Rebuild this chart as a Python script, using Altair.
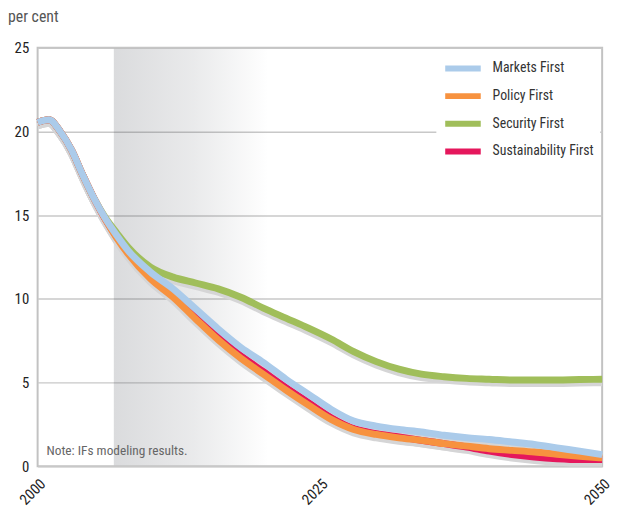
import altair as alt
import pandas as pd

years = [2000, 2001, 2002, 2003, 2004, 2005, 2006, 2007, 2008, 2010, 2012, 2014, 2016,
         2018, 2020, 2022, 2024, 2026, 2028, 2030, 2032, 2034, 2036, 2038, 2040, 2042,
         2044, 2046, 2048, 2050]

markets = [20.55, 20.7, 20.0, 18.9, 17.4, 16.0, 14.8, 13.8, 12.9, 11.6, 10.6, 9.4, 8.2,
           7.1, 6.2, 5.2, 4.3, 3.4, 2.7, 2.4, 2.2, 2.05, 1.85, 1.7, 1.6, 1.45,
           1.3, 1.1, 0.9, 0.7]
policy = [20.55, 20.7, 20.0, 18.9, 17.4, 16.0, 14.75, 13.65, 12.7, 11.2, 10.1, 8.8, 7.55,
          6.45, 5.5, 4.55, 3.65, 2.8, 2.2, 1.9, 1.7, 1.55, 1.35, 1.2, 1.05, 0.95,
          0.85, 0.72, 0.6, 0.5]
security = [20.55, 20.7, 20.0, 18.9, 17.4, 16.0, 14.85, 13.95, 13.1, 11.9, 11.3, 10.95, 10.6,
            10.1, 9.45, 8.85, 8.25, 7.6, 6.85, 6.25, 5.8, 5.5, 5.35, 5.25, 5.2, 5.15,
            5.15, 5.15, 5.18, 5.2]
sustainability = [20.55, 20.7, 20.0, 18.9, 17.4, 16.0, 14.75, 13.7, 12.8, 11.35, 10.25, 8.95, 7.7,
                  6.6, 5.65, 4.7, 3.8, 2.9, 2.25, 1.95, 1.75, 1.55, 1.35, 1.15, 0.9, 0.7,
                  0.55, 0.45, 0.4, 0.4]

series_names = ["Markets First", "Policy First", "Security First", "Sustainability First"]
series_colors = ["#abcbea", "#f7923f", "#a0be5a", "#e5175c"]
draw_order = ["Security First", "Sustainability First", "Policy First", "Markets First"]

band_start = [2006.75]
band_end = [2022.5]
band_low = [0.06]
band_high = [24.94]
x_ticks = [2000, 2025, 2050]
y_ticks = [0, 5, 10, 15, 20, 25]

rows = []
for name, vals in zip(series_names, [markets, policy, security, sustainability]):
    for yr, v in zip(years, vals):
        rows.append({"year": yr, "value": v, "series": name})
df = pd.DataFrame(rows)
band_df = pd.DataFrame({"start": band_start, "end": band_end,
                        "low": band_low, "high": band_high})

FONT = "Roboto Condensed, DejaVu Sans Condensed, Liberation Sans Narrow, Liberation Sans, sans-serif"

x_scale = alt.Scale(domain=[2000, 2050], nice=False)
y_scale = alt.Scale(domain=[0, 25], nice=False)
color_scale = alt.Scale(domain=series_names, range=series_colors)

band = alt.Chart(band_df).mark_rect(
    fill=alt.Gradient(
        gradient="linear",
        stops=[alt.GradientStop(color="rgba(60,65,75,0.19)", offset=0),
               alt.GradientStop(color="rgba(60,65,75,0.11)", offset=0.45),
               alt.GradientStop(color="rgba(60,65,75,0)", offset=0.87),
               alt.GradientStop(color="rgba(60,65,75,0)", offset=1)],
        x1=0, x2=1, y1=0, y2=0),
    strokeWidth=0,
).encode(
    x=alt.X("start:Q", scale=x_scale,
            axis=alt.Axis(values=x_ticks, format="d", labelAngle=315, title=None,
                          grid=False, ticks=False, domain=False, labelFontSize=15,
                          labelFont=FONT, labelColor="#222", labelPadding=10)),
    x2="end:Q",
    y=alt.Y("low:Q", scale=y_scale),
    y2="high:Q",
)

shadow = alt.Chart(df).mark_line(
    color="#d5d5d6", strokeWidth=8, yOffset=3, interpolate="monotone"
).encode(
    x=alt.X("year:Q", scale=x_scale),
    y=alt.Y("value:Q", scale=y_scale,
            axis=alt.Axis(values=y_ticks, title=None, grid=True, gridColor="#c8c8c8",
                          gridWidth=1.5, ticks=False, domain=False, labelFontSize=15,
                          labelFont=FONT, labelColor="#222", labelPadding=9)),
    detail="series:N",
)

line_layers = []
for name in draw_order:
    line_layers.append(
        alt.Chart(df).transform_filter(alt.datum.series == name).mark_line(
            strokeWidth=7, interpolate="monotone"
        ).encode(
            x=alt.X("year:Q", scale=x_scale),
            y=alt.Y("value:Q", scale=y_scale),
            color=alt.Color("series:N", scale=color_scale,
                            legend=alt.Legend(
                                title=None, orient="none", legendX=404, legendY=3,
                                fillColor="white", padding=6,
                                symbolType="M-2,0L2,0", symbolSize=324,
                                symbolStrokeWidth=6, symbolOffset=9, rowPadding=4,
                                labelFontSize=14, labelFont=FONT, labelColor="#333",
                                labelOffset=18, values=series_names)),
        )
    )

note = alt.Chart(pd.DataFrame({"t": ["Note: IFs modeling results."]})).mark_text(
    align="left", baseline="middle", fontSize=13.5, font=FONT, color="#666"
).encode(x=alt.value(9), y=alt.value(409), text="t:N")

chart = alt.layer(band, shadow, *line_layers, note).properties(
    width=572, height=424,
    autosize=alt.AutoSizeParams(type="none"),
    padding={"left": 30, "top": 37, "right": 11, "bottom": 42},
    title=alt.TitleParams("per cent", anchor="start", frame="group", dx=-30, offset=16,
                          fontSize=16, font=FONT, fontWeight="normal", color="#555"),
).configure_view(stroke="#c2c2c2", strokeWidth=2)

chart.save("out.html", embed_options={"renderer": "svg", "actions": False})
